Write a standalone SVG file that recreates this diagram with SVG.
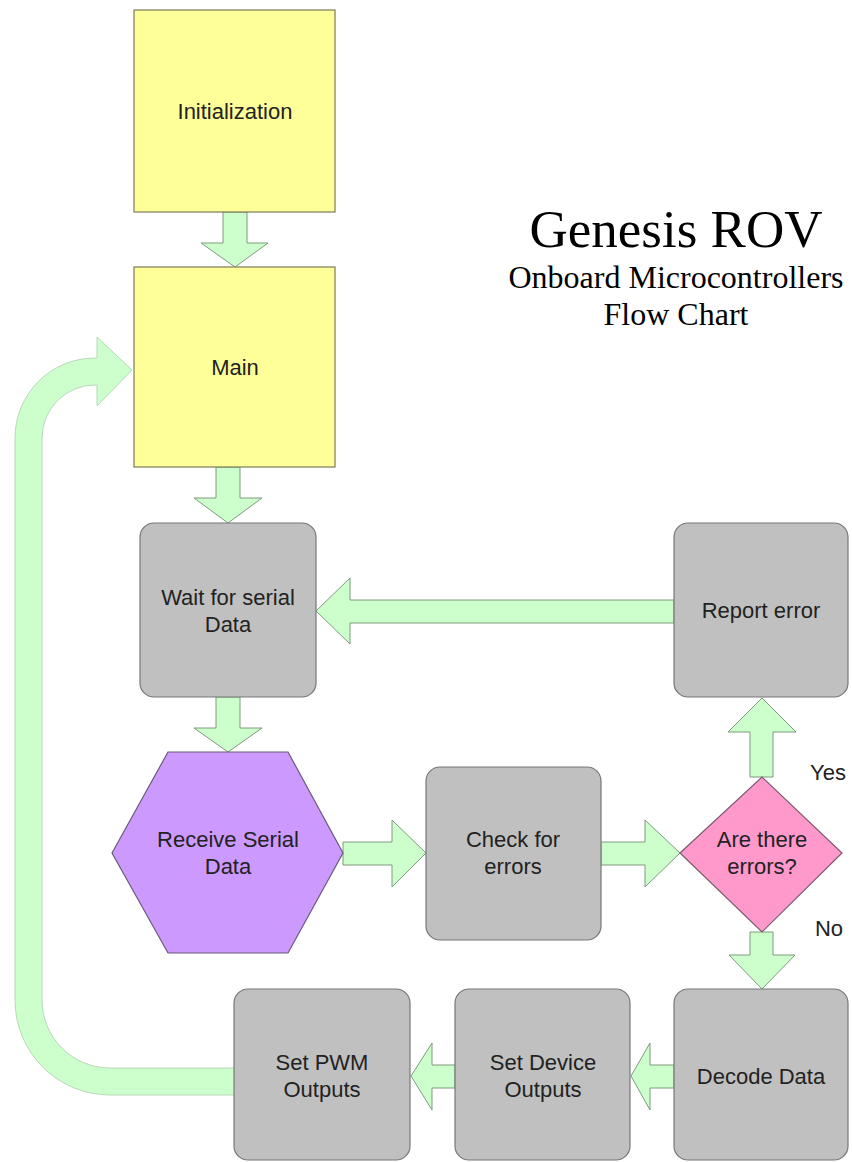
<svg xmlns="http://www.w3.org/2000/svg" width="852" height="1162" viewBox="0 0 852 1162">
<style>
.t{font-family:"Liberation Sans",Arial,sans-serif;font-size:22px;fill:#222;text-anchor:middle}
.h{font-family:"Liberation Serif","Times New Roman",serif;fill:#000;text-anchor:middle}
.y{fill:#FFFF99;stroke:#7a7a5a;stroke-width:1.2}
.g{fill:#C0C0C0;stroke:#777;stroke-width:1.2}
.a{fill:#CCFFCC;stroke:#7f9a7f;stroke-width:1}
</style>
<rect width="852" height="1162" fill="#fff"/>
<g id="title">
<text class="h" x="676" y="247" font-size="53">Genesis ROV</text>
<text class="h" x="676" y="288" font-size="32">Onboard Microcontrollers</text>
<text class="h" x="676" y="325" font-size="32">Flow Chart</text>
</g>
<g id="connectors">
<path class="a" d="M235,1095 L110,1095 A95,95 0 0 1 15,1000 L15,438 A80,80 0 0 1 95,358 L97,358 L97,337 L132,370 L97,406 L97,385 L95,385 A53,53 0 0 0 42,438 L42,1000 A68,68 0 0 0 110,1068 L235,1068 Z" style="stroke:#b8d8b8"/>
<polygon class="a" points="223,212 247,212 247,243 268,243 235,267 201,243 223,243"/>
<polygon class="a" points="216,467 240,467 240,498 262,498 228,523 194,498 216,498"/>
<polygon class="a" points="216,697 240,697 240,728 262,728 228,752 194,728 216,728"/>
<polygon class="a" points="343,842 392,842 392,820 426,853 392,887 392,865 343,865"/>
<polygon class="a" points="601,842 645,842 645,820 680,853 645,887 645,865 601,865"/>
<polygon class="a" points="750,777 750,732 728,732 762,698 796,732 773,732 773,777"/>
<polygon class="a" points="674,600 350,600 350,578 316,611 350,644 350,623 674,623"/>
<polygon class="a" points="750,932 773,932 773,955 795,955 762,989 729,955 750,955"/>
<polygon class="a" points="674,1065 650,1065 650,1043 631,1076 650,1110 650,1088 674,1088"/>
<polygon class="a" points="455,1065 432,1065 432,1043 411,1076 432,1110 432,1088 455,1088"/>
</g>
<g id="init">
<rect class="y" x="134" y="10" width="201" height="202"/>
<text class="t" x="235" y="119">Initialization</text>
</g>
<g id="main">
<rect class="y" x="134" y="267" width="201" height="200"/>
<text class="t" x="235" y="375">Main</text>
</g>
<g id="wait">
<rect class="g" x="140" y="523" width="176" height="174" rx="14"/>
<text class="t" x="228" y="605">Wait for serial</text>
<text class="t" x="228" y="632">Data</text>
</g>
<g id="receive">
<polygon points="112,853 168,752 288,752 343,853 288,953 168,953" fill="#CC99FF" stroke="#6a5a7a" stroke-width="1.2"/>
<text class="t" x="228" y="847">Receive Serial</text>
<text class="t" x="228" y="874">Data</text>
</g>
<g id="check">
<rect class="g" x="426" y="767" width="175" height="173" rx="14"/>
<text class="t" x="513" y="847">Check for</text>
<text class="t" x="513" y="874">errors</text>
</g>
<g id="decision">
<polygon points="680,853 762,777 842,853 762,932" fill="#FF99CC" stroke="#7a5a6a" stroke-width="1.2"/>
<text class="t" x="762" y="847">Are there</text>
<text class="t" x="762" y="874">errors?</text>
<text class="t" x="828" y="780">Yes</text>
<text class="t" x="829" y="936">No</text>
</g>
<g id="report">
<rect class="g" x="674" y="523" width="174" height="174" rx="14"/>
<text class="t" x="761" y="618">Report error</text>
</g>
<g id="decode">
<rect class="g" x="674" y="989" width="174" height="171" rx="14"/>
<text class="t" x="761" y="1084">Decode Data</text>
</g>
<g id="device">
<rect class="g" x="455" y="989" width="175" height="171" rx="14"/>
<text class="t" x="543" y="1070">Set Device</text>
<text class="t" x="543" y="1097">Outputs</text>
</g>
<g id="pwm">
<rect class="g" x="234" y="989" width="176" height="171" rx="14"/>
<text class="t" x="322" y="1070">Set PWM</text>
<text class="t" x="322" y="1097">Outputs</text>
</g>
</svg>
